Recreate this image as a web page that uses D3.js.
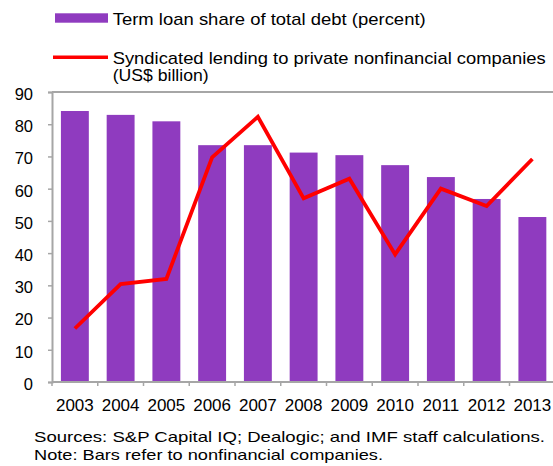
<!DOCTYPE html>
<html>
<head>
<meta charset="utf-8">
<script src="https://cdn.jsdelivr.net/npm/d3@7"></script>
<style>
  body { margin: 0; background: #fff; }
  svg { display: block; font-family: "Liberation Sans", Arial, sans-serif; }
</style>
</head>
<body>
<svg id="chart"></svg>
<script>
// Term loans vs syndicated lending

const years = ["2003","2004","2005","2006","2007","2008","2009","2010","2011","2012","2013"];
const termLoanShare = [84.1, 82.9, 80.9, 73.5, 73.5, 71.2, 70.4, 67.3, 63.6, 56.8, 51.2];
const syndicated = [16.6, 30.4, 32, 69.7, 82.3, 57, 63.1, 39.6, 60, 54.6, 69.2];
const yTicks = [0, 10, 20, 30, 40, 50, 60, 70, 80, 90];

const barLabel = "Term loan share of total debt (percent)";
const lineLabel = ["Syndicated lending to private nonfinancial companies", "(US$ billion)"];
const notes = ["Sources: S&P Capital IQ; Dealogic; and IMF staff calculations.",
               "Note: Bars refer to nonfinancial companies."];

let width = 553, height = 466;
let plot = {left: 52, right: 555.25, top: 92, bottom: 382};
const purple = "#8f3bbf", red = "#ff0000", axisGrey = "#a6a6a6";

let svg = d3.select("#chart").attr("width", width).attr("height", height);

let x = d3.scaleBand().domain(years).range([plot.left, plot.right])
  .paddingInner(0.39).paddingOuter(0.195);
let y = d3.scaleLinear().domain([0, 90]).range([plot.bottom, plot.top]);

// top frame line
svg.append("line")
  .attr("x1", plot.left).attr("x2", width)
  .attr("y1", y(90)).attr("y2", y(90))
  .attr("stroke", axisGrey).attr("stroke-width", 2);

// bars
svg.selectAll(".bar")
  .data(termLoanShare)
  .enter()
  .append("rect")
  .attr("class", "bar")
  .attr("x", (d, i) => x(years[i]))
  .attr("y", d => y(d))
  .attr("width", x.bandwidth())
  .attr("height", d => y(0) - y(d))
  .attr("fill", purple);

// y axis
let yAxis = svg.append("g")
  .attr("transform", `translate(${plot.left},0)`)
  .call(d3.axisLeft(y).tickValues(yTicks).tickSize(4).tickPadding(15).tickFormat(d3.format("d")));
yAxis.select(".domain").attr("stroke", axisGrey).attr("stroke-width", 2);
yAxis.selectAll(".tick line").attr("stroke", axisGrey).attr("stroke-width", 1.5);
yAxis.selectAll(".tick text")
  .attr("font-size", "16.5px").attr("fill", "#000")
  .attr("font-family", "Liberation Sans, Arial, sans-serif")
  .attr("dy", "0.45em");

// x axis: ticks between categories, labels centred on bands
let step = x.step();
let bounds = years.map(d => x(d) - x.paddingInner() * step / 2);
bounds.push(plot.right);
let xAxis = svg.append("g");
xAxis.append("line")
  .attr("x1", plot.left).attr("x2", width)
  .attr("y1", y(0)).attr("y2", y(0))
  .attr("stroke", axisGrey).attr("stroke-width", 2);
xAxis.selectAll(".xtick")
  .data(bounds)
  .enter()
  .append("line")
  .attr("x1", d => d).attr("x2", d => d)
  .attr("y1", y(0)).attr("y2", y(0) + 4)
  .attr("stroke", axisGrey).attr("stroke-width", 1.5);
xAxis.selectAll(".xlabel")
  .data(years)
  .enter()
  .append("text")
  .attr("x", d => x(d) + x.bandwidth() / 2)
  .attr("y", 410.5)
  .attr("text-anchor", "middle")
  .attr("font-size", "17px")
  .text(d => d);

// line
let line = d3.line()
  .x((d, i) => x(years[i]) + x.bandwidth() / 2)
  .y(d => y(d));
svg.append("path")
  .datum(syndicated)
  .attr("d", line)
  .attr("fill", "none")
  .attr("stroke", red)
  .attr("stroke-width", 3.8);

// legend
let legend = svg.append("g");
legend.append("rect")
  .attr("x", 55).attr("y", 13.3)
  .attr("width", 53).attr("height", 9.4)
  .attr("fill", purple);
legend.append("text")
  .attr("x", 112.7).attr("y", 25)
  .attr("font-size", "17px")
  .attr("textLength", 313).attr("lengthAdjust", "spacingAndGlyphs")
  .text(barLabel);
legend.append("line")
  .attr("x1", 53).attr("x2", 108)
  .attr("y1", 57.3).attr("y2", 57.3)
  .attr("stroke", red).attr("stroke-width", 3.5);
let lineLens = [433, 96];
legend.selectAll(".lineLabel")
  .data(lineLabel)
  .enter()
  .append("text")
  .attr("x", 112.7)
  .attr("y", (d, i) => 63.8 + i * 17.2)
  .attr("font-size", "17px")
  .attr("textLength", (d, i) => lineLens[i]).attr("lengthAdjust", "spacingAndGlyphs")
  .text(d => d);

// sources and note
let noteLens = [511, 349];
svg.selectAll(".note")
  .data(notes)
  .enter()
  .append("text")
  .attr("x", 34)
  .attr("y", (d, i) => 442.3 + i * 17.5)
  .attr("font-size", "15px")
  .attr("textLength", (d, i) => noteLens[i]).attr("lengthAdjust", "spacingAndGlyphs")
  .text(d => d);
</script>
</body>
</html>
